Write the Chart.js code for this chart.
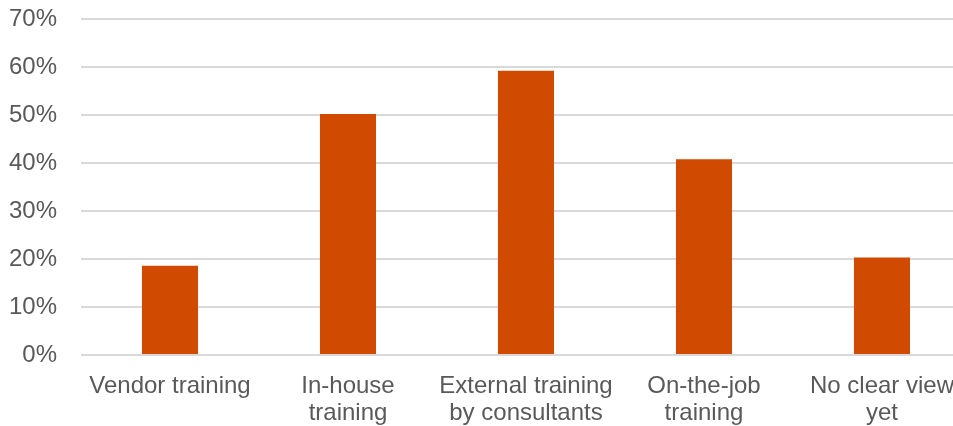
<!DOCTYPE html>
<html>
<head>
<meta charset="utf-8">
<script src="https://cdn.jsdelivr.net/npm/chart.js@4/dist/chart.umd.min.js"></script>
<style>
  html, body { margin: 0; padding: 0; background: #fff; overflow: hidden; }
  #wrap { width: 972px; height: 426px; }
</style>
</head>
<body>
<div id="wrap"><canvas id="trainingChart" width="972" height="426"></canvas></div>
<script>
const categories = [
  "Vendor training",
  ["In-house", "training"],
  ["External training", "by consultants"],
  ["On-the-job", "training"],
  ["No clear view", "yet"]
];
const shares = [18.6, 50.2, 59.2, 40.8, 20.3];
const yTicks = [0, 10, 20, 30, 40, 50, 60, 70];

const ctx = document.getElementById("trainingChart").getContext("2d");
new Chart(ctx, {
  type: "bar",
  data: {
    labels: categories,
    datasets: [
      {
        data: shares,
        backgroundColor: "#d04a02",
        borderWidth: 0,
        categoryPercentage: 1,
        barPercentage: 0.315
      }
    ]
  },
  options: {
    responsive: false,
    animation: false,
    devicePixelRatio: 1,
    layout: { padding: { left: 9, top: 19, right: 0, bottom: 0 } },
    plugins: {
      legend: { display: false },
      tooltip: { enabled: false }
    },
    scales: {
      x: {
        afterFit: (scale) => { scale.height = 71; },
        grid: { display: false, drawTicks: false },
        border: { display: false },
        ticks: {
          color: "#595959",
          padding: 18,
          maxRotation: 0,
          autoSkip: false,
          font: { family: "'Liberation Sans', Arial, sans-serif", size: 24, lineHeight: 1.13 }
        }
      },
      y: {
        min: 0,
        max: 70,
        afterBuildTicks: (axis) => { axis.ticks = yTicks.map(v => ({ value: v })); },
        afterFit: (scale) => {
          scale.width = 72;
          scale.paddingTop = 0;
          scale.paddingBottom = 0;
        },
        grid: { color: "#d9d9d9", lineWidth: 2, drawTicks: false },
        border: { display: false },
        ticks: {
          color: "#595959",
          padding: 24,
          callback: (v) => v + "%",
          font: { family: "'Liberation Sans', Arial, sans-serif", size: 24 }
        }
      }
    }
  }
});
</script>
</body>
</html>
